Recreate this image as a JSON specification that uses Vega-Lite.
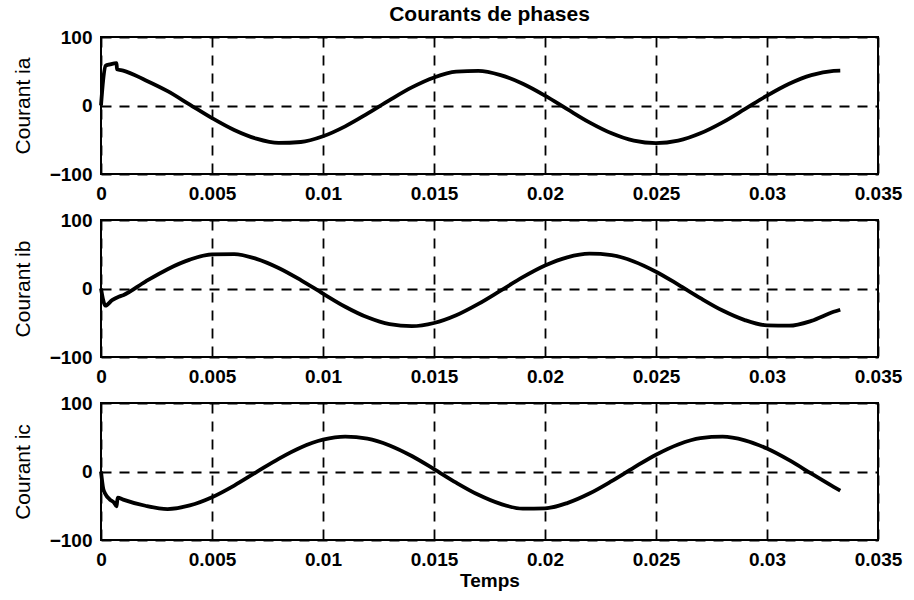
{
  "$schema": "https://vega.github.io/schema/vega-lite/v6.json",
  "background": "white",
  "padding": {"left": 11, "top": 3, "right": 5, "bottom": 5},
  "bounds": "flush",
  "spacing": 46,
  "data": {"values": [
    {"t":0,"i":0,"p":"ia"},{"t":0.0001,"i":38,"p":"ia"},{"t":0.0002,"i":58,"p":"ia"},{"t":0.0004,"i":60,"p":"ia"},{"t":0.0007,"i":62,"p":"ia"},{"t":0.00072,"i":53,"p":"ia"},{"t":0.001,"i":51,"p":"ia"},{"t":0.002,"i":37,"p":"ia"},{"t":0.003,"i":21,"p":"ia"},{"t":0.004,"i":1.3,"p":"ia"},{"t":0.005,"i":-18.4,"p":"ia"},{"t":0.006,"i":-35.8,"p":"ia"},{"t":0.007,"i":-48.4,"p":"ia"},{"t":0.008,"i":-54.6,"p":"ia"},{"t":0.009,"i":-53.3,"p":"ia"},{"t":0.010,"i":-44.9,"p":"ia"},{"t":0.011,"i":-30.4,"p":"ia"},{"t":0.012,"i":-11.9,"p":"ia"},{"t":0.013,"i":7.9,"p":"ia"},{"t":0.014,"i":26.4,"p":"ia"},{"t":0.015,"i":40.9,"p":"ia"},{"t":0.016,"i":49.3,"p":"ia"},{"t":0.017,"i":50.6,"p":"ia"},{"t":0.018,"i":44.4,"p":"ia"},{"t":0.019,"i":31.8,"p":"ia"},{"t":0.020,"i":14.4,"p":"ia"},{"t":0.021,"i":-5.3,"p":"ia"},{"t":0.022,"i":-24.6,"p":"ia"},{"t":0.023,"i":-40.6,"p":"ia"},{"t":0.024,"i":-51.3,"p":"ia"},{"t":0.025,"i":-55,"p":"ia"},{"t":0.026,"i":-51.3,"p":"ia"},{"t":0.027,"i":-40.6,"p":"ia"},{"t":0.028,"i":-24.6,"p":"ia"},{"t":0.029,"i":-5.3,"p":"ia"},{"t":0.030,"i":14.4,"p":"ia"},{"t":0.031,"i":31.8,"p":"ia"},{"t":0.032,"i":44.4,"p":"ia"},{"t":0.033,"i":50.6,"p":"ia"},{"t":0.0333,"i":51,"p":"ia"},
    {"t":0,"i":0,"p":"ib"},{"t":0.0002,"i":-25,"p":"ib"},{"t":0.0005,"i":-17,"p":"ib"},{"t":0.0008,"i":-12,"p":"ib"},{"t":0.001,"i":-9.7,"p":"ib"},{"t":0.002,"i":10.1,"p":"ib"},{"t":0.003,"i":28.2,"p":"ib"},{"t":0.004,"i":42.1,"p":"ib"},{"t":0.005,"i":49.8,"p":"ib"},{"t":0.006,"i":50.3,"p":"ib"},{"t":0.007,"i":43.3,"p":"ib"},{"t":0.008,"i":30,"p":"ib"},{"t":0.009,"i":12.3,"p":"ib"},{"t":0.010,"i":-7.5,"p":"ib"},{"t":0.011,"i":-26.6,"p":"ib"},{"t":0.012,"i":-42.1,"p":"ib"},{"t":0.013,"i":-52.1,"p":"ib"},{"t":0.014,"i":-55,"p":"ib"},{"t":0.015,"i":-50.4,"p":"ib"},{"t":0.016,"i":-39.1,"p":"ib"},{"t":0.017,"i":-22.5,"p":"ib"},{"t":0.018,"i":-3.1,"p":"ib"},{"t":0.019,"i":16.5,"p":"ib"},{"t":0.020,"i":33.5,"p":"ib"},{"t":0.021,"i":45.5,"p":"ib"},{"t":0.022,"i":50.8,"p":"ib"},{"t":0.023,"i":48.7,"p":"ib"},{"t":0.024,"i":39.5,"p":"ib"},{"t":0.025,"i":24.5,"p":"ib"},{"t":0.026,"i":5.7,"p":"ib"},{"t":0.027,"i":-14.1,"p":"ib"},{"t":0.028,"i":-32.2,"p":"ib"},{"t":0.029,"i":-46.1,"p":"ib"},{"t":0.030,"i":-53.8,"p":"ib"},{"t":0.031,"i":-54.3,"p":"ib"},{"t":0.032,"i":-47.3,"p":"ib"},{"t":0.033,"i":-34,"p":"ib"},{"t":0.0333,"i":-31,"p":"ib"},
    {"t":0,"i":0,"p":"ic"},{"t":0.0001,"i":-25,"p":"ic"},{"t":0.0002,"i":-33,"p":"ic"},{"t":0.0004,"i":-41,"p":"ic"},{"t":0.0006,"i":-46,"p":"ic"},{"t":0.0007,"i":-51,"p":"ic"},{"t":0.00075,"i":-38,"p":"ic"},{"t":0.001,"i":-41,"p":"ic"},{"t":0.002,"i":-50,"p":"ic"},{"t":0.003,"i":-54.8,"p":"ic"},{"t":0.004,"i":-49.5,"p":"ic"},{"t":0.005,"i":-37.5,"p":"ic"},{"t":0.006,"i":-20.5,"p":"ic"},{"t":0.007,"i":-0.9,"p":"ic"},{"t":0.008,"i":18.5,"p":"ic"},{"t":0.009,"i":35.1,"p":"ic"},{"t":0.010,"i":46.4,"p":"ic"},{"t":0.011,"i":51,"p":"ic"},{"t":0.012,"i":48.1,"p":"ic"},{"t":0.013,"i":38.1,"p":"ic"},{"t":0.014,"i":22.6,"p":"ic"},{"t":0.015,"i":3.5,"p":"ic"},{"t":0.016,"i":-16.3,"p":"ic"},{"t":0.017,"i":-34,"p":"ic"},{"t":0.018,"i":-47.3,"p":"ic"},{"t":0.019,"i":-54.3,"p":"ic"},{"t":0.020,"i":-53.8,"p":"ic"},{"t":0.021,"i":-46.1,"p":"ic"},{"t":0.022,"i":-32.2,"p":"ic"},{"t":0.023,"i":-14.1,"p":"ic"},{"t":0.024,"i":5.7,"p":"ic"},{"t":0.025,"i":24.5,"p":"ic"},{"t":0.026,"i":39.5,"p":"ic"},{"t":0.027,"i":48.7,"p":"ic"},{"t":0.028,"i":50.8,"p":"ic"},{"t":0.029,"i":45.5,"p":"ic"},{"t":0.030,"i":33.5,"p":"ic"},{"t":0.031,"i":16.5,"p":"ic"},{"t":0.032,"i":-3.1,"p":"ic"},{"t":0.033,"i":-22.5,"p":"ic"},{"t":0.0333,"i":-28,"p":"ic"}
  ]},
  "vconcat": [
    {
      "title": {"text": "Courants de phases", "fontSize": 21, "fontWeight": "bold", "offset": 3, "color": "black"},
      "width": 777, "height": 137,
      "transform": [{"filter": "datum.p === 'ia'"}],
      "mark": {"type": "line", "color": "black", "strokeWidth": 3.8, "interpolate": "monotone"},
      "encoding": {
        "x": {"field": "t", "type": "quantitative", "scale": {"domain": [0, 0.035], "nice": false, "zero": false}, "axis": {"title": null, "values": [0, 0.005, 0.01, 0.015, 0.02, 0.025, 0.03, 0.035], "format": "~g"}},
        "y": {"field": "i", "type": "quantitative", "scale": {"domain": [-100, 100], "nice": false}, "axis": {"title": "Courant ia", "values": [-100, 0, 100]}}
      }
    },
    {
      "width": 777, "height": 137,
      "transform": [{"filter": "datum.p === 'ib'"}],
      "mark": {"type": "line", "color": "black", "strokeWidth": 3.8, "interpolate": "monotone"},
      "encoding": {
        "x": {"field": "t", "type": "quantitative", "scale": {"domain": [0, 0.035], "nice": false, "zero": false}, "axis": {"title": null, "values": [0, 0.005, 0.01, 0.015, 0.02, 0.025, 0.03, 0.035], "format": "~g"}},
        "y": {"field": "i", "type": "quantitative", "scale": {"domain": [-100, 100], "nice": false}, "axis": {"title": "Courant ib", "values": [-100, 0, 100]}}
      }
    },
    {
      "width": 777, "height": 137,
      "transform": [{"filter": "datum.p === 'ic'"}],
      "mark": {"type": "line", "color": "black", "strokeWidth": 3.8, "interpolate": "monotone"},
      "encoding": {
        "x": {"field": "t", "type": "quantitative", "scale": {"domain": [0, 0.035], "nice": false, "zero": false}, "axis": {"title": "Temps", "values": [0, 0.005, 0.01, 0.015, 0.02, 0.025, 0.03, 0.035], "format": "~g"}},
        "y": {"field": "i", "type": "quantitative", "scale": {"domain": [-100, 100], "nice": false}, "axis": {"title": "Courant ic", "values": [-100, 0, 100]}}
      }
    }
  ],
  "config": {
    "font": "Liberation Sans",
    "view": {"stroke": "black", "strokeWidth": 2},
    "axis": {
      "domain": false, "ticks": false,
      "labelFont": "Liberation Sans", "labelFontWeight": "bold", "labelFontSize": 19, "labelColor": "black",
      "labelFlush": false, "labelOverlap": false, "labelBound": false,
      "titleFont": "Liberation Sans", "titleColor": "black",
      "grid": true, "gridColor": "black", "gridDash": [10, 8], "gridWidth": 1.8, "gridOpacity": 1
    },
    "axisX": {"labelPadding": 10, "titleFontSize": 19, "titleFontWeight": "bold", "titlePadding": 2},
    "axisY": {"labelPadding": 9, "titleFontSize": 21, "titleFontWeight": "normal", "titlePadding": 16}
  }
}
